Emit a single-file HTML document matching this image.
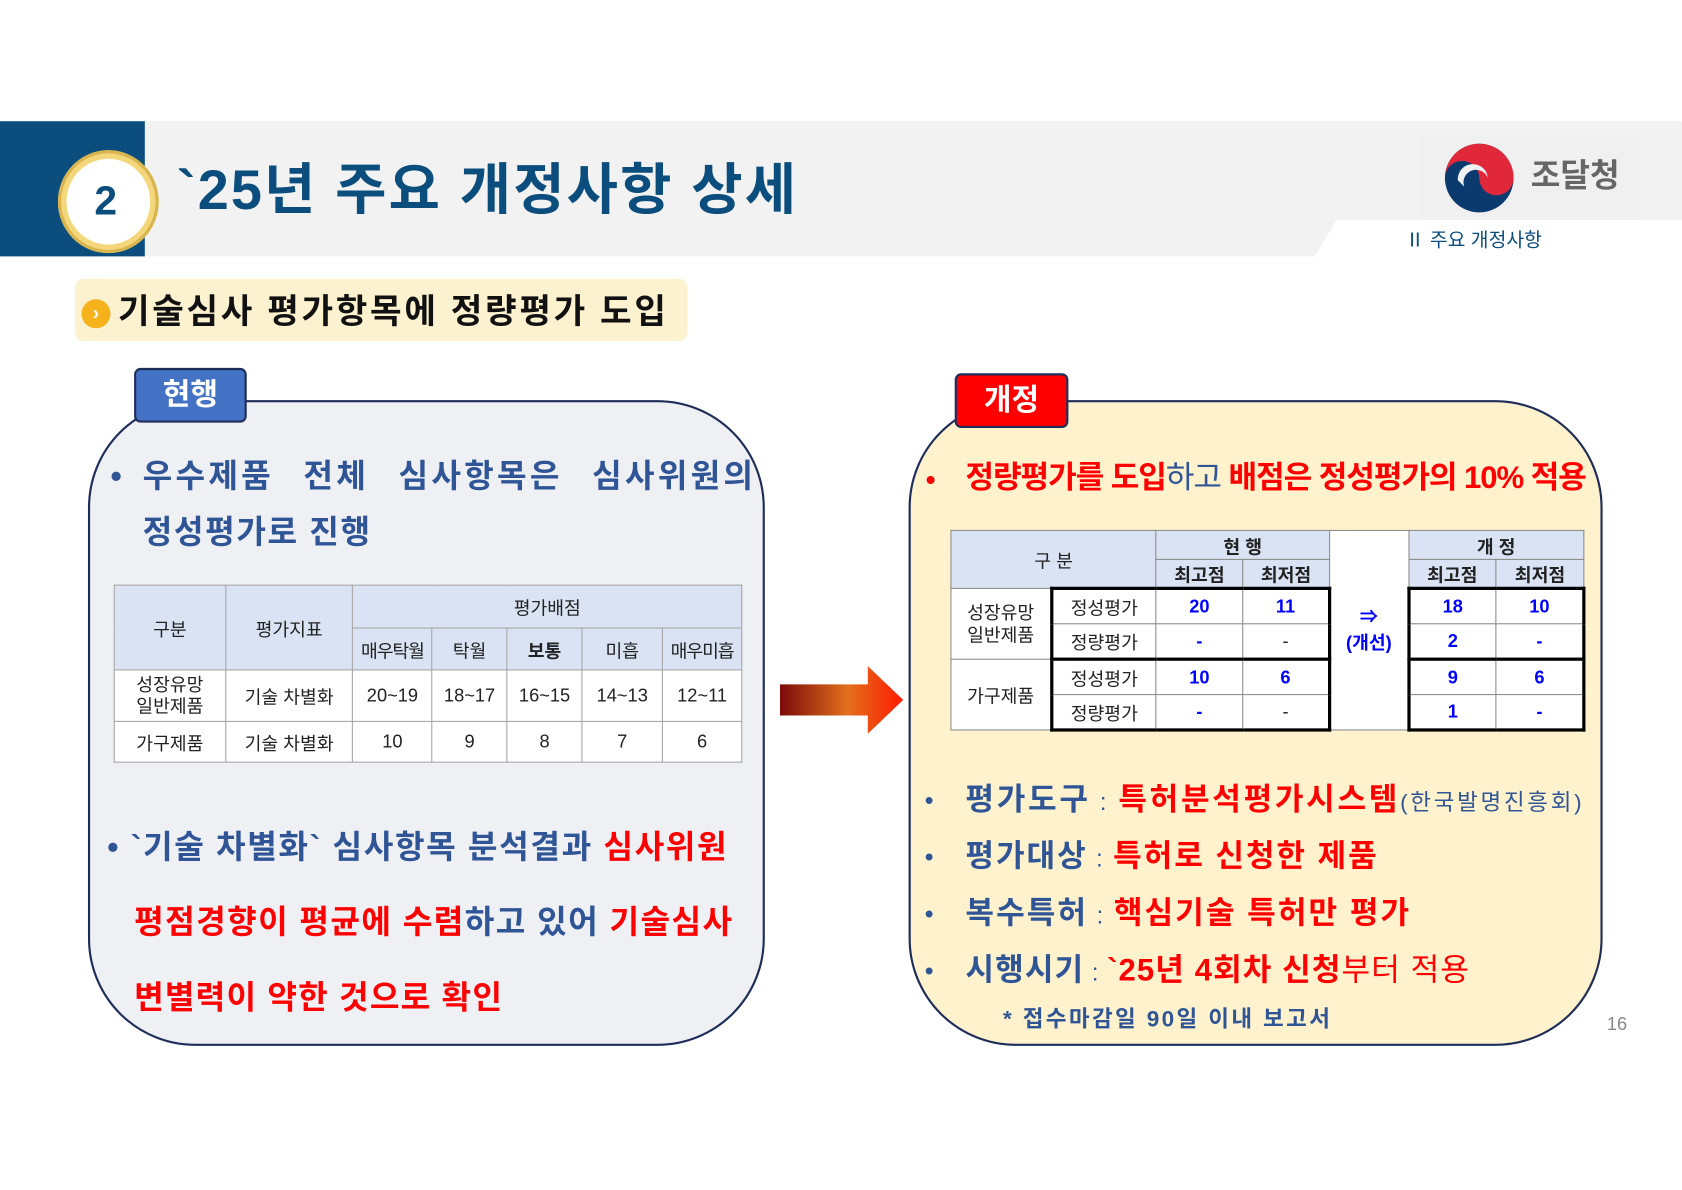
<!DOCTYPE html>
<html><head><meta charset="utf-8"><style>
html,body{margin:0;padding:0;background:#fff;overflow:hidden;width:1682px;height:1190px}
#w{position:absolute;left:0;top:0;width:1568px;height:1109px;transform:scale(1.07270);transform-origin:0 0;font-family:"Liberation Sans","Noto Sans CJK KR",sans-serif}
.a{position:absolute;white-space:nowrap}
.b{font-weight:bold}
.blue{color:#2f5597}.red{color:#ff0000}
table{border-collapse:collapse;position:absolute;font-family:"Liberation Sans","Noto Sans CJK KR",sans-serif}
td{text-align:center;padding:0;font-size:17px;color:#222}
.lt td{border:1px solid #a6a6a6}
.hd{background:#dae3f3}
.rt td{border:1px solid #8c8c8c;font-size:17px}
.num{color:#0000ff;font-weight:bold}
</style></head><body><div id="w">
<!-- header -->
<div class="a" style="left:0;top:113px;width:1568px;height:126px;background:#f2f2f2"></div>
<div class="a" style="left:1222px;top:205px;width:346px;height:40px;background:#fff;clip-path:polygon(24px 0,100% 0,100% 100%,0 100%)"></div>
<div class="a" style="left:0;top:113px;width:135px;height:126px;background:#0b4d7c"></div>
<div class="a" style="left:54px;top:140px;width:94px;height:96px;border-radius:50%;background:#f4d77a;box-shadow:0 0 0 3px #d9b550 inset"></div>
<div class="a" style="left:62px;top:148px;width:78px;height:80px;border-radius:50%;background:#fff"></div>
<div class="a b" style="left:88px;top:166px;font-size:38px;color:#0b4d7c;line-height:44px">2</div>
<div class="a b" style="left:165px;top:146px;font-size:52px;color:#0b4d7c;line-height:64px;letter-spacing:2px">`25년 주요 개정사항 상세</div>
<div class="a" style="left:1325px;top:125px;width:205px;height:80px;background:#f0f0f0"></div>
<svg class="a" style="left:1345px;top:132px" width="70" height="68" viewBox="0 0 70 68"><circle cx="34" cy="34" r="32" fill="#0b3a6e"/><path d="M2 34 A32 32 0 0 1 66 34 A16 16 0 0 1 34 34 A16 16 0 0 0 2 34Z" fill="#e0283a"/><path d="M14 36 A14 14 0 0 1 42 34 A10 10 0 0 0 20 42Z" fill="#f0f0f0"/></svg>
<div class="a b" style="left:1427px;top:145px;font-size:30px;color:#666;line-height:40px">조달청</div>
<div class="a" style="left:1310px;top:212px;font-size:18px;color:#0b4d7c;line-height:24px">Ⅱ 주요 개정사항</div>
<!-- subtitle -->
<div class="a" style="left:70px;top:260px;width:571px;height:58px;background:#fdf2d0;border-radius:8px"></div>
<div class="a" style="left:76px;top:279px;width:27px;height:27px;border-radius:50%;background:#f6b21b;color:#fff;font-size:18px;line-height:27px;text-align:center;font-weight:bold">›</div>
<div class="a b" style="left:110px;top:268px;font-size:32px;line-height:44px;color:#111;letter-spacing:2.5px">기술심사 평가항목에 정량평가 도입</div>
<!-- left panel -->
<div class="a" style="left:82px;top:373px;width:627px;height:598px;background:#eef0f4;border:2px solid #1f2d5a;border-radius:100px"></div>
<div class="a b" style="left:125px;top:343px;width:101px;height:47px;background:#4472c4;border:2px solid #1f2d5a;border-radius:6px;color:#fff;font-size:28px;line-height:46px;text-align:center">현행</div>
<div class="a blue b" style="left:103px;top:424px;font-size:30px;line-height:42px">•</div>
<div class="a blue b" style="left:133px;top:424px;width:572px;font-size:30px;line-height:42px;display:flex;justify-content:space-between;letter-spacing:3px"><span>우수제품</span><span>전체</span><span>심사항목은</span><span>심사위원의</span></div>
<div class="a blue b" style="left:133px;top:476px;font-size:30px;line-height:42px;letter-spacing:1.5px">정성평가로 진행</div>
<table class="lt" style="left:106px;top:545px;width:586px">
<colgroup><col style="width:104px"><col style="width:119px"><col style="width:74px"><col style="width:70px"><col style="width:70px"><col style="width:75px"><col style="width:74px"></colgroup>
<tr style="height:40px"><td class="hd" rowspan="2">구분</td><td class="hd" rowspan="2">평가지표</td><td class="hd" colspan="5">평가배점</td></tr>
<tr style="height:39px"><td class="hd" style="letter-spacing:-1px">매우탁월</td><td class="hd">탁월</td><td class="hd b">보통</td><td class="hd">미흡</td><td class="hd" style="letter-spacing:-1px">매우미흡</td></tr>
<tr style="height:48px;background:#fff"><td style="line-height:20px">성장유망<br>일반제품</td><td>기술 차별화</td><td>20~19</td><td>18~17</td><td>16~15</td><td>14~13</td><td>12~11</td></tr>
<tr style="height:38px;background:#fff"><td>가구제품</td><td>기술 차별화</td><td>10</td><td>9</td><td>8</td><td>7</td><td>6</td></tr>
</table>
<div class="a b" style="left:100px;top:770px;font-size:30px;line-height:42px;letter-spacing:1.5px"><span class="blue">• `기술 차별화` 심사항목 분석결과 </span><span class="red">심사위원</span></div>
<div class="a b" style="left:125px;top:840px;font-size:30px;line-height:42px;letter-spacing:1.3px"><span class="red">평점경향이 평균에 수렴</span><span class="blue">하고 있어 </span><span class="red">기술심사</span></div>
<div class="a b red" style="left:125px;top:910px;font-size:30px;line-height:42px;letter-spacing:1.1px">변별력이 약한 것으로 확인</div>
<!-- arrow -->
<div class="a" style="left:727px;top:621px;width:115px;height:63px;background:linear-gradient(90deg,#7b0a0a,#e2701c 55%,#ff1a00);clip-path:polygon(0 17px,82px 17px,82px 0,100% 50%,82px 100%,82px 46px,0 46px)"></div>
<!-- right panel -->
<div class="a" style="left:847px;top:373px;width:643px;height:598px;background:#fff2cc;border:2px solid #1f2d5a;border-radius:100px"></div>
<div class="a b" style="left:890px;top:348px;width:102px;height:47px;background:#ff0000;border:2px solid #1f2d5a;border-radius:6px;color:#fff;font-size:28px;line-height:46px;text-align:center">개정</div>
<div class="a red b" style="left:863px;top:427px;font-size:26px;line-height:40px">•</div>
<div class="a b" style="left:900px;top:425px;font-size:29px;line-height:42px;letter-spacing:-1px"><span class="red">정량평가를 도입</span><span class="blue" style="font-weight:normal">하고 </span><span class="red">배점은 정성평가의 10% 적용</span></div>
<table class="rt" style="left:886px;top:494px;width:592px">
<colgroup><col style="width:94px"><col style="width:98px"><col style="width:81px"><col style="width:81px"><col style="width:74px"><col style="width:82px"><col style="width:82px"></colgroup>
<tr style="height:27px"><td class="hd" rowspan="2" colspan="2">구 분</td><td class="hd b" colspan="2">현 행</td><td rowspan="6" style="background:#fff;border-top:1px solid #8c8c8c;border-bottom:1px solid #8c8c8c;color:#0000ff;font-weight:bold;line-height:24px">⇒<br>(개선)</td><td class="hd b" colspan="2">개 정</td></tr>
<tr style="height:27px"><td class="hd b">최고점</td><td class="hd b">최저점</td><td class="hd b">최고점</td><td class="hd b">최저점</td></tr>
<tr style="height:33px;background:#fff"><td rowspan="2" style="line-height:21px">성장유망<br>일반제품</td><td style="border-left:3px solid #000;border-top:3px solid #000">정성평가</td><td class="num" style="border-top:3px solid #000">20</td><td class="num" style="border-top:3px solid #000;border-right:3px solid #000">11</td><td class="num" style="border-top:3px solid #000;border-left:3px solid #000">18</td><td class="num" style="border-top:3px solid #000;border-right:3px solid #000">10</td></tr>
<tr style="height:33px;background:#fff"><td style="border-left:3px solid #000;border-bottom:3px solid #000">정량평가</td><td class="num" style="border-bottom:3px solid #000">-</td><td style="border-bottom:3px solid #000;border-right:3px solid #000">-</td><td class="num" style="border-bottom:3px solid #000;border-left:3px solid #000">2</td><td class="num" style="border-bottom:3px solid #000;border-right:3px solid #000">-</td></tr>
<tr style="height:33px;background:#fff"><td rowspan="2">가구제품</td><td style="border-left:3px solid #000">정성평가</td><td class="num">10</td><td class="num" style="border-right:3px solid #000">6</td><td class="num" style="border-left:3px solid #000">9</td><td class="num" style="border-right:3px solid #000">6</td></tr>
<tr style="height:33px;background:#fff"><td style="border-left:3px solid #000;border-bottom:3px solid #000">정량평가</td><td class="num" style="border-bottom:3px solid #000">-</td><td style="border-bottom:3px solid #000;border-right:3px solid #000">-</td><td class="num" style="border-bottom:3px solid #000;border-left:3px solid #000">1</td><td class="num" style="border-bottom:3px solid #000;border-right:3px solid #000">-</td></tr>
</table>
<div class="a blue" style="left:862px;top:729px;font-size:24px;line-height:36px">•</div>
<div class="a b" style="left:900px;top:726px;font-size:29px;line-height:40px;letter-spacing:2.5px"><span class="blue">평가도구</span><span class="blue" style="font-size:22px;font-weight:normal"> : </span><span class="red">특허분석평가시스템</span><span class="blue" style="font-size:21px;font-weight:normal">(한국발명진흥회)</span></div>
<div class="a blue" style="left:862px;top:782px;font-size:24px;line-height:36px">•</div>
<div class="a b" style="left:900px;top:779px;font-size:29px;line-height:40px;letter-spacing:1.8px"><span class="blue">평가대상</span><span class="blue" style="font-size:22px;font-weight:normal"> : </span><span class="red">특허로 신청한 제품</span></div>
<div class="a blue" style="left:862px;top:835px;font-size:24px;line-height:36px">•</div>
<div class="a b" style="left:900px;top:832px;font-size:29px;line-height:40px;letter-spacing:1.9px"><span class="blue">복수특허</span><span class="blue" style="font-size:22px;font-weight:normal"> : </span><span class="red">핵심기술 특허만 평가</span></div>
<div class="a blue" style="left:862px;top:888px;font-size:24px;line-height:36px">•</div>
<div class="a b" style="left:900px;top:885px;font-size:29px;line-height:40px;letter-spacing:1px"><span class="blue">시행시기</span><span class="blue" style="font-size:22px;font-weight:normal"> : </span><span class="red">`25년 4회차 신청</span><span class="red" style="font-weight:normal">부터 적용</span></div>
<div class="a b blue" style="left:935px;top:936px;font-size:21px;line-height:30px;letter-spacing:2.2px">* 접수마감일 90일 이내 보고서</div>
<div class="a" style="left:1498px;top:944px;font-size:17px;color:#888;line-height:22px">16</div>
</div></body></html>
